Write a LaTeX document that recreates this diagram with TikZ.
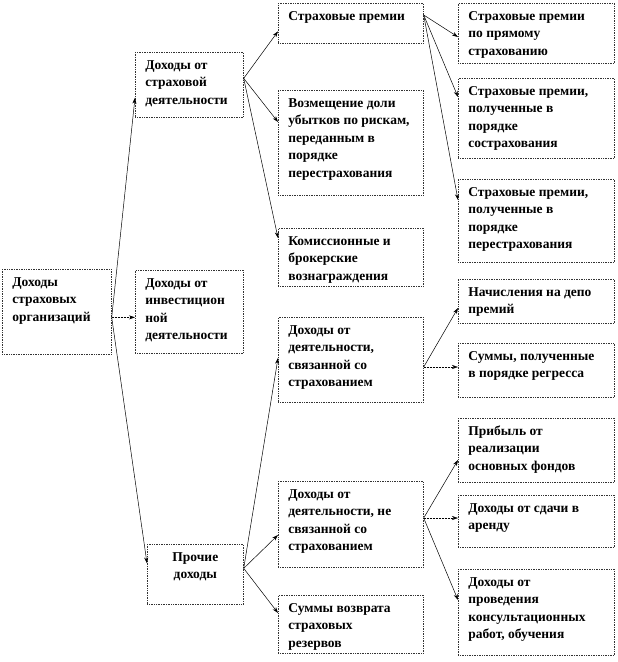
\documentclass[tikz,border=0pt]{standalone}
\usepackage{fontspec}
\setmainfont{Liberation Serif}
\usetikzlibrary{arrows.meta}
\newcommand{\cell}[3]{\parbox[t][#2][t]{#1}{\raggedright\rule{0pt}{17pt}#3}}
\newcommand{\ccell}[3]{\parbox[t][#2][t]{#1}{\centering\rule{0pt}{17pt}#3}}
\tikzset{
    box/.style={draw=black!80, densely dotted, line width=0.7pt, anchor=north west,
                inner xsep=10pt, inner ysep=0pt, fill=white,
                font=\fontsize{13.5}{17.5}\selectfont\bfseries},
    link/.style={draw, line width=0.5pt, -{Stealth[length=6pt, width=4pt]}},
    dlink/.style={link, densely dotted}
}

\begin{document}
\begin{tikzpicture}[x=1pt, y=-1pt]
        \useasboundingbox (0, 0) rectangle (618, 662);
        % first column
        \node[box] (org) at (2, 269)
            {\cell{89pt}{85pt}{Доходы\\страховых\\организаций}};
        % second column
        \node[box] (strakh) at (135, 52)
            {\cell{88pt}{65pt}{Доходы от\\страховой\\деятельности}};
        \node[box] (invest) at (135, 270)
            {\cell{88pt}{83pt}{Доходы от\\инвестицион\\ной\\деятельности}};
        \node[box] (other) at (147, 544)
            {\ccell{76pt}{60pt}{Прочие\\доходы}};
        % third column
        \node[box] (prem) at (278, 3)
            {\cell{125pt}{40pt}{Страховые премии}};
        \node[box] (reimb) at (278, 90)
            {\cell{125pt}{105pt}{Возмещение доли\\убытков по рискам,\\переданным в\\порядке\\перестрахования}};
        \node[box] (comm) at (278, 228)
            {\cell{125pt}{58pt}{Комиссионные и\\брокерские\\вознаграждения}};
        \node[box] (rel) at (278, 317)
            {\cell{125pt}{85pt}{Доходы от\\деятельности,\\связанной со\\страхованием}};
        \node[box] (nonrel) at (278, 481)
            {\cell{125pt}{86pt}{Доходы от\\деятельности, не\\связанной со\\страхованием}};
        \node[box] (refund) at (278, 595)
            {\cell{125pt}{58pt}{Суммы возврата\\страховых\\резервов}};
        % fourth column
        \node[box] (direct) at (458, 3)
            {\cell{136pt}{60pt}{Страховые премии\\по прямому\\страхованию}};
        \node[box] (coins) at (458, 78)
            {\cell{136pt}{80pt}{Страховые премии,\\полученные в\\порядке\\сострахования}};
        \node[box] (reins) at (458, 179)
            {\cell{136pt}{83pt}{Страховые премии,\\полученные в\\порядке\\перестрахования}};
        \node[box] (depo) at (458, 279)
            {\cell{136pt}{44pt}{Начисления на депо\\премий}};
        \node[box] (regr) at (458, 343)
            {\cell{136pt}{54pt}{Суммы, полученные\\в порядке регресса}};
        \node[box] (profit) at (458, 418)
            {\cell{136pt}{64pt}{Прибыль от\\реализации\\основных фондов}};
        \node[box] (rent) at (458, 495)
            {\cell{136pt}{52pt}{Доходы от сдачи в\\аренду}};
        \node[box] (consult) at (458, 569)
            {\cell{136pt}{86pt}{Доходы от\\проведения\\консультационных\\работ, обучения}};

        % branch points
        \coordinate (o) at ([yshift=-5.5pt]org.east);
        \coordinate (s) at ([yshift=6.5pt]strakh.east);
        \coordinate (p) at ([yshift=6pt]other.east);
        \coordinate (q) at ([yshift=-12pt]prem.north east);
        \coordinate (r) at ([yshift=-50pt]rel.north east);
        \coordinate (n) at ([yshift=-37pt]nonrel.north east);

        \draw[link] (o) -- ([yshift=20pt]strakh.south west);
        \draw[dlink] (o) -- ([yshift=-5.5pt]invest.west);
        \draw[link] (o) -- ([yshift=11pt]other.west);

        \draw[link] (s) -- ([yshift=-8pt]prem.west);
        \draw[link] (s) -- ([yshift=-32pt]reimb.north west);
        \draw[link] (s) -- ([yshift=-10pt]comm.north west);

        \draw[link] (p) -- ([yshift=-41pt]rel.north west);
        \draw[link] (p) -- ([yshift=-54pt]nonrel.north west);
        \draw[link] (p) -- ([yshift=-18pt]refund.north west);

        \draw[link] (q) -- ([yshift=-34pt]direct.north west);
        \draw[link] (q) -- ([yshift=-19pt]coins.north west);
        \draw[link] (q) -- ([yshift=-21pt]reins.north west);

        \draw[link] (r) -- ([yshift=-29pt]depo.north west);
        \draw[dlink] (r) -- ([yshift=-24pt]regr.north west);

        \draw[link] (n) -- ([yshift=-42pt]profit.north west);
        \draw[dlink] (n) -- ([yshift=-23pt]rent.north west);
        \draw[link] (n) -- ([yshift=-31pt]consult.north west);
    \end{tikzpicture}
\end{document}
